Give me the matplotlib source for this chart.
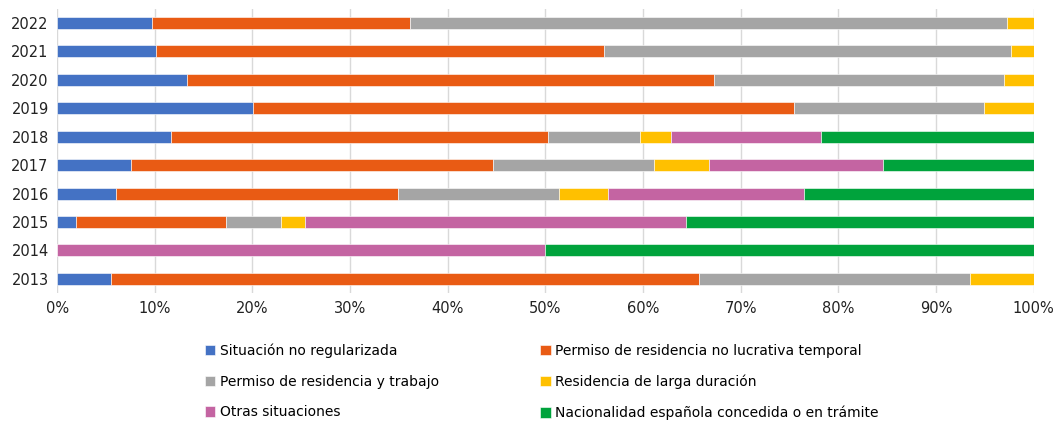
import numpy as np
import matplotlib.pyplot as plt

years = ['2013', '2014', '2015', '2016', '2017', '2018', '2019', '2020', '2021', '2022']

categories = ['Situación no regularizada',
              'Permiso de residencia no lucrativa temporal',
              'Permiso de residencia y trabajo',
              'Residencia de larga duración',
              'Otras situaciones',
              'Nacionalidad española concedida o en trámite']

# percentages per year (2013 -> 2022)
no_regularizada = [5.5, 0.0, 1.9, 6.0, 7.6, 11.7, 20.1, 13.3, 10.1, 9.7]
no_lucrativa = [60.2, 0.0, 15.4, 28.9, 37.0, 38.6, 55.4, 54.0, 45.9, 26.4]
residencia_trabajo = [27.8, 0.0, 5.6, 16.5, 16.5, 9.4, 19.4, 29.65, 41.7, 61.2]
larga_duracion = [6.5, 0.0, 2.5, 5.0, 5.6, 3.2, 5.1, 3.05, 2.3, 2.7]
otras = [0.0, 50.0, 39.0, 20.1, 17.9, 15.3, 0.0, 0.0, 0.0, 0.0]
nacionalidad = [0.0, 50.0, 35.6, 23.5, 15.4, 21.8, 0.0, 0.0, 0.0, 0.0]

colors = ['#4472C4', '#E95B14', '#A5A5A5', '#FFC000', '#C464A2', '#00A33C']

series = [no_regularizada, no_lucrativa, residencia_trabajo,
          larga_duracion, otras, nacionalidad]

fig = plt.figure(figsize=(10.57, 4.21), dpi=100)
ax = fig.add_axes([0.054, 0.304, 0.924, 0.675])

y = np.arange(len(years))
left = np.zeros(len(years))
handles = []
for vals, col, name in zip(series, colors, categories):
    vals = np.array(vals)
    b = ax.barh(y, vals, left=left, height=0.42, color=col, label=name,
                edgecolor='white', linewidth=0.4, zorder=3)
    handles.append(b)
    left += vals

ax.set_xlim(0, 100)
ax.set_ylim(-0.5, len(years) - 0.5)
ax.set_yticks(y)
ax.set_yticklabels(years, fontsize=10.5, color='#222222')
ax.set_xticks(np.arange(0, 101, 10))
ax.set_xticklabels(['{}%'.format(v) for v in range(0, 101, 10)], fontsize=10.5, color='#222222')
ax.tick_params(length=0, pad=6)
ax.grid(axis='x', color='#D9D9D9', linewidth=1, zorder=0)
for s in ax.spines.values():
    s.set_visible(False)

order = [0, 2, 4, 1, 3, 5]
fig.legend([handles[i] for i in order], [categories[i] for i in order],
           loc='upper left', bbox_to_anchor=(0.194, 0.184), ncol=2, frameon=False,
           fontsize=10, handlelength=0.75, handleheight=0.75, handletextpad=0.3,
           labelspacing=1.2, columnspacing=7.3, borderaxespad=0, borderpad=0)

fig.savefig('out.png', dpi=100)
